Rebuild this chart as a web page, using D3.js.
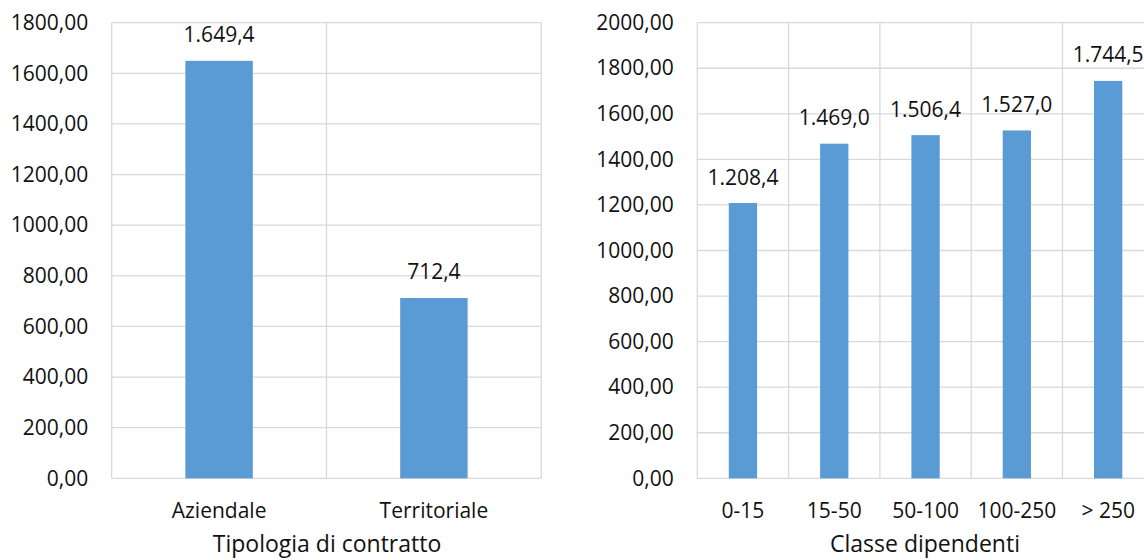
<!DOCTYPE html>
<html>
<head>
<meta charset="utf-8">
<script src="https://cdn.jsdelivr.net/npm/d3@7"></script>
<style>
  html, body { margin: 0; padding: 0; background: #fff; }
  svg { display: block; }
  text { font-family: "Open Sans", "Noto Sans", sans-serif; fill: #111; }
</style>
</head>
<body>
<svg id="chart" width="1144" height="560"></svg>
<script>
// Retribuzione media per tipologia di contratto
const contractTypes = ["Aziendale", "Territoriale"];
const contractValues = [1649.4, 712.4];
const contractTicks = [0, 200, 400, 600, 800, 1000, 1200, 1400, 1600, 1800];

// Retribuzione media per classe di dipendenti
const sizeClasses = ["0-15", "15-50", "50-100", "100-250", "> 250"];
const sizeValues = [1208.4, 1469.0, 1506.4, 1527.0, 1744.5];
const sizeTicks = [0, 200, 400, 600, 800, 1000, 1200, 1400, 1600, 1800, 2000];

const it = d3.formatLocale({ decimal: ",", thousands: ".", grouping: [3], currency: ["€", ""] });
const tickFmt = it.format(".2f");
const labelFmt = it.format(",.1f");

const svg = d3.select("#chart");
const BAR = "#5B9BD5";
const GRID = "#D9D9D9";
const INK = "#111";

function panel(opts) {
  const { cats, vals, ticks, x0, x1, top, bottom, padInner, title, titleX } = opts;
  const g = svg.append("g");

  const x = d3.scaleBand().domain(cats).range([x0, x1])
    .paddingInner(padInner).paddingOuter(padInner / 2);
  const y = d3.scaleLinear().domain([0, d3.max(ticks)]).range([bottom, top]);

  // horizontal gridlines
  g.append("g").selectAll("line").data(ticks).join("line")
    .attr("x1", x0).attr("x2", x1)
    .attr("y1", d => y(d)).attr("y2", d => y(d))
    .attr("stroke", GRID).attr("stroke-width", 1.3);

  // vertical gridlines at category boundaries
  const step = x.step();
  const bounds = d3.range(cats.length + 1).map(i => x0 + i * step);
  g.append("g").selectAll("line").data(bounds).join("line")
    .attr("x1", d => d).attr("x2", d => d)
    .attr("y1", top).attr("y2", bottom)
    .attr("stroke", GRID).attr("stroke-width", 1.3);

  // bars
  g.append("g").selectAll("rect").data(vals).join("rect")
    .attr("x", (d, i) => x(cats[i]))
    .attr("width", x.bandwidth())
    .attr("y", d => y(d))
    .attr("height", d => y(0) - y(d))
    .attr("fill", BAR);

  // value labels
  g.append("g").selectAll("text").data(vals).join("text")
    .attr("x", (d, i) => x(cats[i]) + x.bandwidth() / 2)
    .attr("y", d => y(d) - 18.5)
    .attr("text-anchor", "middle")
    .attr("font-size", 21)
    .text(d => labelFmt(d));

  // y axis
  const yAxis = d3.axisLeft(y).tickValues(ticks).tickFormat(tickFmt).tickSize(0).tickPadding(23.5);
  const ya = g.append("g").attr("transform", `translate(${x0},0)`).call(yAxis);
  ya.select(".domain").remove();
  ya.selectAll("text").attr("font-size", 21).attr("fill", INK)
    .attr("font-family", "Open Sans, Noto Sans, sans-serif");

  // x axis
  const xAxis = d3.axisBottom(x).tickSize(0).tickPadding(0);
  const xa = g.append("g").attr("transform", `translate(0,${bottom})`).call(xAxis);
  xa.select(".domain").remove();
  xa.selectAll("text").attr("font-size", 21).attr("fill", INK)
    .attr("font-family", "Open Sans, Noto Sans, sans-serif")
    .attr("dy", null).attr("y", 40);

  // axis title
  g.append("text")
    .attr("x", titleX)
    .attr("y", 552)
    .attr("text-anchor", "middle")
    .attr("font-size", 23)
    .text(title);
}

panel({
  cats: contractTypes, vals: contractValues, ticks: contractTicks,
  x0: 111.7, x1: 541.3, top: 22.7, bottom: 478.3, padInner: 0.686,
  title: "Tipologia di contratto", titleX: 327
});

panel({
  cats: sizeClasses, vals: sizeValues, ticks: sizeTicks,
  x0: 697.3, x1: 1153.8, top: 22.7, bottom: 478.3, padInner: 0.69,
  title: "Classe dipendenti", titleX: 925
});
</script>
</body>
</html>
